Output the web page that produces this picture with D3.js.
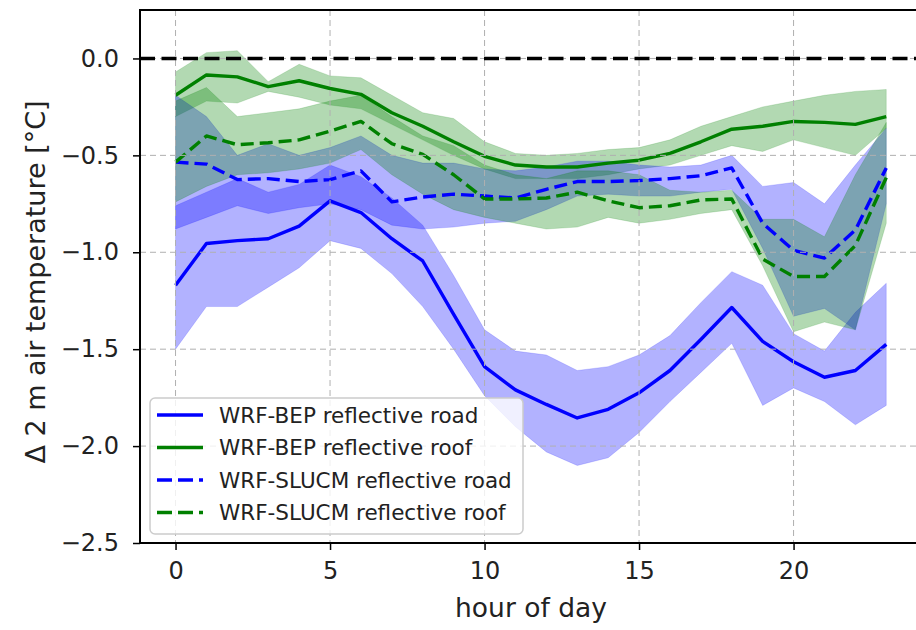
<!DOCTYPE html>
<html>
<head>
<meta charset="utf-8">
<script src="https://cdn.jsdelivr.net/npm/d3@7"></script>
<style>
  body { margin: 0; background: #fff; }
  svg { font-family: "DejaVu Sans", sans-serif; }
</style>
</head>
<body>
<svg id="chart"></svg>
<script>
// hours of the day
var hours = [0, 1, 2, 3, 4, 5, 6, 7, 8, 9, 10, 11, 12, 13, 14, 15, 16, 17, 18, 19, 20, 21, 22, 23];

// WRF-BEP reflective road
var bepRoad      = [-1.17, -0.955, -0.94, -0.93, -0.865, -0.735, -0.795, -0.93, -1.045, -1.32, -1.59, -1.71, -1.785, -1.855, -1.81, -1.725, -1.61, -1.45, -1.285, -1.46, -1.565, -1.645, -1.61, -1.475];
var bepRoadHi    = [-0.76, -0.69, -0.62, -0.69, -0.65, -0.55, -0.61, -0.72, -0.86, -1.12, -1.40, -1.51, -1.53, -1.61, -1.59, -1.53, -1.43, -1.26, -1.10, -1.17, -1.42, -1.51, -1.31, -1.16];
var bepRoadLo    = [-1.50, -1.28, -1.28, -1.18, -1.08, -0.94, -0.98, -1.11, -1.28, -1.50, -1.74, -1.90, -2.03, -2.10, -2.06, -1.93, -1.77, -1.62, -1.47, -1.79, -1.70, -1.77, -1.89, -1.79];

// WRF-BEP reflective roof
var bepRoof      = [-0.19, -0.085, -0.095, -0.145, -0.115, -0.155, -0.185, -0.28, -0.35, -0.43, -0.505, -0.55, -0.56, -0.56, -0.54, -0.525, -0.49, -0.43, -0.365, -0.35, -0.325, -0.33, -0.34, -0.30];
var bepRoofHi    = [-0.07, 0.03, 0.04, -0.12, -0.03, -0.09, -0.10, -0.19, -0.28, -0.31, -0.43, -0.49, -0.50, -0.49, -0.47, -0.46, -0.42, -0.35, -0.30, -0.25, -0.22, -0.19, -0.17, -0.16];
var bepRoofLo    = [-0.30, -0.22, -0.23, -0.17, -0.20, -0.24, -0.26, -0.34, -0.42, -0.50, -0.57, -0.62, -0.62, -0.62, -0.60, -0.57, -0.55, -0.50, -0.45, -0.48, -0.42, -0.46, -0.50, -0.36];

// WRF-SLUCM reflective road
var slucmRoad    = [-0.535, -0.545, -0.625, -0.62, -0.635, -0.625, -0.58, -0.74, -0.715, -0.70, -0.71, -0.72, -0.675, -0.635, -0.635, -0.63, -0.62, -0.605, -0.565, -0.85, -0.99, -1.03, -0.885, -0.565];
var slucmRoadHi  = [-0.19, -0.30, -0.50, -0.44, -0.50, -0.46, -0.40, -0.50, -0.54, -0.54, -0.57, -0.58, -0.56, -0.53, -0.53, -0.55, -0.56, -0.55, -0.50, -0.66, -0.64, -0.75, -0.55, -0.36];
var slucmRoadLo  = [-0.88, -0.82, -0.76, -0.80, -0.77, -0.75, -0.78, -0.86, -0.88, -0.87, -0.85, -0.84, -0.78, -0.71, -0.70, -0.71, -0.71, -0.69, -0.675, -0.98, -1.33, -1.29, -1.40, -0.75];

// WRF-SLUCM reflective roof
var slucmRoof    = [-0.535, -0.40, -0.445, -0.435, -0.42, -0.375, -0.325, -0.44, -0.495, -0.60, -0.725, -0.725, -0.72, -0.69, -0.735, -0.77, -0.76, -0.73, -0.725, -1.035, -1.125, -1.125, -0.965, -0.615];
var slucmRoofHi  = [-0.22, -0.15, -0.30, -0.28, -0.26, -0.22, -0.19, -0.30, -0.40, -0.45, -0.55, -0.60, -0.62, -0.58, -0.58, -0.60, -0.68, -0.69, -0.68, -0.83, -0.83, -0.92, -0.60, -0.33];
var slucmRoofLo  = [-0.74, -0.66, -0.60, -0.59, -0.57, -0.54, -0.47, -0.60, -0.70, -0.78, -0.82, -0.85, -0.88, -0.87, -0.82, -0.85, -0.83, -0.80, -0.78, -1.07, -1.41, -1.36, -1.40, -0.85];

var xTicks = [0, 5, 10, 15, 20];
var yTicks = [0.0, -0.5, -1.0, -1.5, -2.0, -2.5];

var series = [
    { label: 'WRF-BEP reflective road',   mean: bepRoad,   hi: bepRoadHi,   lo: bepRoadLo,   color: '#0000ff', dashed: false },
    { label: 'WRF-BEP reflective roof',   mean: bepRoof,   hi: bepRoofHi,   lo: bepRoofLo,   color: '#008000', dashed: false },
    { label: 'WRF-SLUCM reflective road', mean: slucmRoad, hi: slucmRoadHi, lo: slucmRoadLo, color: '#0000ff', dashed: true },
    { label: 'WRF-SLUCM reflective roof', mean: slucmRoof, hi: slucmRoofHi, lo: slucmRoofLo, color: '#008000', dashed: true }
];

var width = 916,
    height = 630;

var svg = d3.select('#chart')
    .attr('width', width)
    .attr('height', height);

// axes box: left spine at 140, top at 10, bottom at 543 (right spine is off the canvas)
var x = d3.scaleLinear()
    .domain([-1.15, 24.15])
    .range([140, 921.8]);

var y = d3.scaleLinear()
    .domain([-2.5, 0.25])
    .range([543, 10]);

var plot = svg.append('g');

// shaded ranges
var area = d3.area()
    .x(function (d) { return x(d.h); })
    .y0(function (d) { return y(d.lo); })
    .y1(function (d) { return y(d.hi); });

series.forEach(function (s) {
    var rows = hours.map(function (h, i) { return { h: h, lo: s.lo[i], hi: s.hi[i] }; });
    plot.append('path')
        .datum(rows)
        .attr('d', area)
        .attr('fill', s.color)
        .attr('fill-opacity', 0.3)
        .attr('stroke', s.color)
        .attr('stroke-opacity', 0.15)
        .attr('stroke-width', 1);
});

// grid
var grid = svg.append('g')
    .attr('stroke', '#b0b0b0')
    .attr('stroke-width', 1)
    .attr('stroke-dasharray', '6,4');

grid.selectAll('.gx')
    .data(xTicks)
    .enter().append('line')
    .attr('x1', function (d) { return x(d); })
    .attr('x2', function (d) { return x(d); })
    .attr('y1', y(0.25))
    .attr('y2', y(-2.5));

grid.selectAll('.gy')
    .data(yTicks)
    .enter().append('line')
    .attr('x1', x(-1.15))
    .attr('x2', width)
    .attr('y1', function (d) { return y(d); })
    .attr('y2', function (d) { return y(d); });

// mean lines
var line = d3.line()
    .x(function (d) { return x(d.h); })
    .y(function (d) { return y(d.v); });

series.forEach(function (s) {
    var rows = hours.map(function (h, i) { return { h: h, v: s.mean[i] }; });
    plot.append('path')
        .datum(rows)
        .attr('d', line)
        .attr('fill', 'none')
        .attr('stroke', s.color)
        .attr('stroke-width', 3.4)
        .attr('stroke-linejoin', 'round')
        .attr('stroke-dasharray', s.dashed ? '13,6' : null);
});

// zero reference line
svg.append('line')
    .attr('x1', x(-1.15))
    .attr('x2', width)
    .attr('y1', y(0))
    .attr('y2', y(0))
    .attr('stroke', '#000')
    .attr('stroke-width', 3.5)
    .attr('stroke-dasharray', '15,6.5');

// axes
var xAxis = svg.append('g')
    .attr('transform', 'translate(0,' + y(-2.5) + ')')
    .call(d3.axisBottom(x).tickValues(xTicks).tickSize(7).tickPadding(12).tickFormat(d3.format('d')));

var yAxis = svg.append('g')
    .attr('transform', 'translate(' + x(-1.15) + ',0)')
    .call(d3.axisLeft(y).tickValues(yTicks).tickSize(7).tickPadding(14).tickFormat(d3.format('.1f')));

[xAxis, yAxis].forEach(function (a) {
    a.select('.domain').remove();
    a.selectAll('.tick line').attr('stroke', '#000').attr('stroke-width', 1.5);
    a.selectAll('.tick text')
        .attr('fill', '#222')
        .style('font-size', '24px')
        .style('font-family', '"DejaVu Sans", sans-serif');
});

// spines (left, top, bottom)
svg.append('path')
    .attr('d', 'M' + width + ',' + y(0.25) + 'H' + x(-1.15) + 'V' + y(-2.5) + 'H' + width)
    .attr('fill', 'none')
    .attr('stroke', '#000')
    .attr('stroke-width', 2);

// axis labels
svg.append('text')
    .attr('x', 531)
    .attr('y', 617)
    .attr('text-anchor', 'middle')
    .attr('fill', '#222')
    .style('font-size', '26.5px')
    .text('hour of day');

svg.append('text')
    .attr('transform', 'translate(45,' + 282 + ')rotate(-90)')
    .attr('text-anchor', 'middle')
    .attr('fill', '#222')
    .style('font-size', '27px')
    .text('Δ 2 m air temperature [°C]');

// legend
var legend = svg.append('g')
    .attr('transform', 'translate(150,398)');

legend.append('rect')
    .attr('width', 373)
    .attr('height', 136)
    .attr('rx', 5)
    .attr('fill', '#fff')
    .attr('fill-opacity', 0.8)
    .attr('stroke', '#cccccc')
    .attr('stroke-width', 1.5);

var items = legend.selectAll('.item')
    .data(series)
    .enter().append('g')
    .attr('transform', function (d, i) { return 'translate(0,' + (17 + i * 32.5) + ')'; });

items.append('line')
    .attr('x1', 7)
    .attr('x2', 53)
    .attr('stroke', function (d) { return d.color; })
    .attr('stroke-width', 3.4)
    .attr('stroke-dasharray', function (d) { return d.dashed ? '15,6' : null; });

items.append('text')
    .attr('x', 69)
    .attr('dy', '0.35em')
    .attr('fill', '#222')
    .style('font-size', '21.5px')
    .text(function (d) { return d.label; });
</script>
</body>
</html>
